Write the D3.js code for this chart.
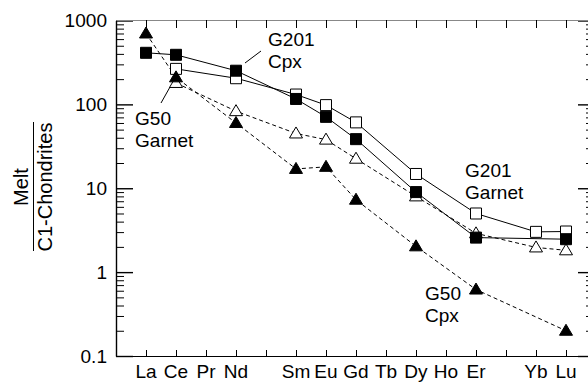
<!DOCTYPE html>
<html>
<head>
<meta charset="utf-8">
<script src="https://cdn.jsdelivr.net/npm/d3@7"></script>
<style>
body { margin: 0; background: #fff; }
text { font-family: "Liberation Sans", Arial, Helvetica, sans-serif; fill: #000; }
.axis path, .axis line { stroke: #000; }
</style>
</head>
<body>
<svg id="chart" width="588" height="382"></svg>
<script>
var elements = ["La", "Ce", "Pr", "Nd", "Pm", "Sm", "Eu", "Gd", "Tb", "Dy", "Ho", "Er", "Tm", "Yb", "Lu"];
var xLabels = ["La", "Ce", "Pr", "Nd", "", "Sm", "Eu", "Gd", "Tb", "Dy", "Ho", "Er", "", "Yb", "Lu"];
var yMajor = [0.1, 1, 10, 100, 1000];
var yLabels = ["0.1", "1", "10", "100", "1000"];

// G201 Cpx - filled squares, solid
var g201CpxEl = ["La", "Ce", "Nd", "Sm", "Eu", "Gd", "Dy", "Er", "Lu"];
var g201CpxVal = [412, 390, 252, 116, 71, 38.5, 9.0, 2.58, 2.47];
// G201 Garnet - open squares, solid
var g201GarEl = ["Ce", "Nd", "Sm", "Eu", "Gd", "Dy", "Er", "Yb", "Lu"];
var g201GarVal = [265, 205, 131, 98, 61, 14.8, 5.0, 3.02, 3.05];
// G50 Garnet - open triangles, dashed
var g50GarEl = ["Ce", "Nd", "Sm", "Eu", "Gd", "Dy", "Er", "Yb", "Lu"];
var g50GarVal = [180, 83, 45, 38, 22.5, 8.0, 2.9, 1.97, 1.82];
// G50 Cpx - filled triangles, dashed
var g50CpxEl = ["La", "Ce", "Nd", "Sm", "Eu", "Gd", "Dy", "Er", "Lu"];
var g50CpxVal = [700, 210, 60, 17, 18, 7.3, 2.03, 0.62, 0.2];

var sx = 1.06; // text is a bit wide in the reference
var fs = 18;

var svg = d3.select("#chart");
var x = d3.scaleLinear().domain([-1, 14.75]).range([116, 588.5]);
var y = d3.scaleLog().domain([0.1, 1000]).range([356, 20.5]);

function xe(el) { return x(elements.indexOf(el)); }

var minor = y.ticks().filter(function (v) { return yMajor.indexOf(v) < 0; });

// left axis, ticks inward
svg.append("g").attr("class", "axis").attr("transform", "translate(116,0)")
    .call(d3.axisRight(y).tickValues(minor).tickSize(8).tickSizeOuter(0).tickFormat(""))
    .call(function (g) { g.select(".domain").attr("stroke-width", 1.4); });
svg.append("g").attr("class", "axis").attr("transform", "translate(116,0)")
    .call(d3.axisRight(y).tickValues(yMajor).tickSize(17).tickSizeOuter(0).tickFormat(""))
    .call(function (g) { g.select(".domain").remove(); g.selectAll("line").attr("stroke-width", 1.4); });

// right axis
svg.append("g").attr("class", "axis").attr("transform", "translate(588,0)")
    .call(d3.axisLeft(y).tickValues(minor).tickSize(2).tickSizeOuter(0).tickFormat(""));
svg.append("g").attr("class", "axis").attr("transform", "translate(588,0)")
    .call(d3.axisLeft(y).tickValues(yMajor).tickSize(10).tickSizeOuter(0).tickFormat(""))
    .call(function (g) { g.select(".domain").remove(); g.selectAll("line").attr("stroke-width", 1.4); });

// bottom axis
svg.append("g").attr("class", "axis").attr("transform", "translate(0,356)")
    .call(d3.axisTop(x).tickValues(d3.range(0, 15)).tickSize(6).tickSizeOuter(0).tickFormat(""));
// top axis (greyish line in the reference)
svg.append("g").attr("class", "axis").attr("transform", "translate(0,20)")
    .call(d3.axisBottom(x).tickValues(d3.range(0, 15)).tickSize(8).tickSizeOuter(0).tickFormat(""))
    .call(function (g) { g.select(".domain").style("stroke", "#888"); });

// y tick labels
svg.selectAll(".ylab").data(yMajor).enter().append("text")
    .attr("class", "ylab")
    .attr("transform", function (d) { return "translate(107," + (y(d) + 6.5) + ") scale(" + sx + ",1)"; })
    .attr("text-anchor", "end")
    .attr("font-size", fs)
    .text(function (d, i) { return yLabels[i]; });

// x tick labels
svg.selectAll(".xlab").data(elements).enter().append("text")
    .attr("class", "xlab")
    .attr("transform", function (d, i) { return "translate(" + x(i) + ",377.5) scale(" + sx + ",1)"; })
    .attr("text-anchor", "middle")
    .attr("font-size", fs)
    .text(function (d, i) { return xLabels[i]; });

// y axis title: Melt / C1-Chondrites
svg.append("text").attr("transform", "translate(28,187) rotate(-90)")
    .attr("text-anchor", "middle").attr("font-size", 20).text("Melt");
svg.append("line").attr("x1", 33.5).attr("x2", 33.5).attr("y1", 122).attr("y2", 251)
    .attr("stroke", "#000").attr("stroke-width", 1);
svg.append("text").attr("transform", "translate(51.5,187) rotate(-90)")
    .attr("text-anchor", "middle").attr("font-size", 20).text("C1-Chondrites");

function makeLine(els, vals, dash) {
    var pts = els.map(function (e, i) { return [xe(e), y(vals[i])]; });
    svg.append("path").datum(pts)
        .attr("d", d3.line())
        .attr("fill", "none")
        .attr("stroke", "#000")
        .attr("stroke-width", 1)
        .attr("stroke-dasharray", dash);
}

makeLine(g201GarEl, g201GarVal, null);
makeLine(g201CpxEl, g201CpxVal, null);
makeLine(g50GarEl, g50GarVal, "4,3");
makeLine(g50CpxEl, g50CpxVal, "4,3");

var sq = "M-5.5,-5.5H5.5V5.5H-5.5Z";
var tri = "M0,-6.5L6.5,4.5L-6.5,4.5Z";

function makeMarks(els, vals, shape, filled) {
    svg.append("g").selectAll("path").data(els).enter().append("path")
        .attr("d", shape)
        .attr("transform", function (d, i) { return "translate(" + xe(d) + "," + y(vals[i]) + ")"; })
        .attr("fill", filled ? "#000" : "#fff")
        .attr("stroke", "#000")
        .attr("stroke-width", 1);
}

makeMarks(g201GarEl, g201GarVal, sq, false);
makeMarks(g50GarEl, g50GarVal, tri, false);
makeMarks(g201CpxEl, g201CpxVal, sq, true);
makeMarks(g50CpxEl, g50CpxVal, tri, true);

// annotations
function note(xp, yp, lines) {
    lines.forEach(function (t, i) {
        svg.append("text")
            .attr("transform", "translate(" + xp + "," + (yp + i * 21.5) + ") scale(" + sx + ",1)")
            .attr("font-size", fs)
            .text(t);
    });
}
function leader(x1, y1, x2, y2) {
    svg.append("line").attr("x1", x1).attr("y1", y1).attr("x2", x2).attr("y2", y2)
        .attr("stroke", "#000").attr("stroke-width", 1);
}

note(268, 46, ["G201", "Cpx"]);
leader(245, 63, 261, 51);
note(135, 125, ["G50", "Garnet"]);
leader(161, 103, 170, 87);
note(465, 177, ["G201", "Garnet"]);
note(425, 300, ["G50", "Cpx"]);
</script>
</body>
</html>
